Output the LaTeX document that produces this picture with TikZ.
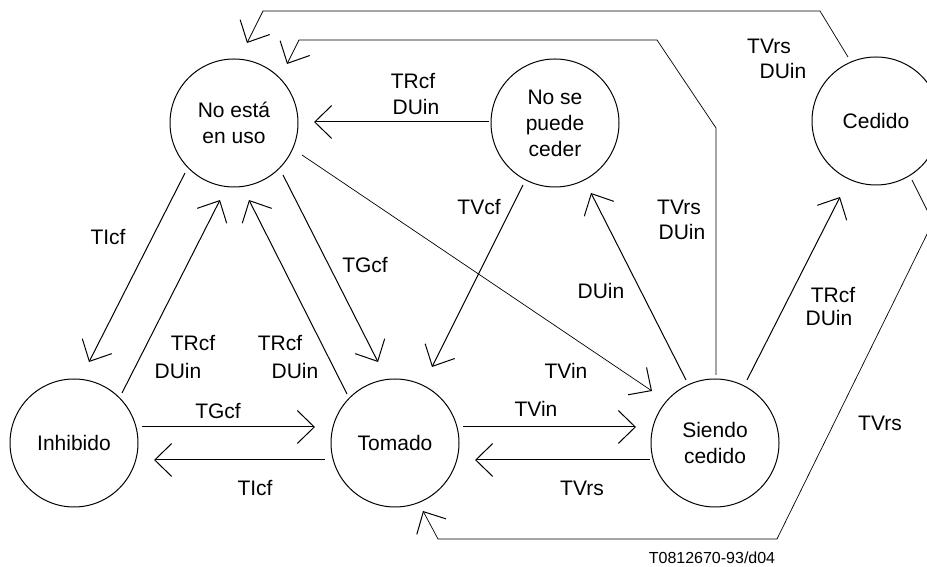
\documentclass[tikz,border=0pt]{standalone}
\usepackage{fontspec}
\setmainfont{Liberation Sans}
\usetikzlibrary{arrows.meta,calc}
\begin{document}
\begin{tikzpicture}[x=1pt,y=1pt,
  state/.style={circle,draw,line width=1pt,minimum size=128pt,inner sep=0pt,outer sep=0pt,align=center,font=\fontsize{21}{26}\selectfont},
  lbl/.style={font=\fontsize{21}{26}\selectfont,inner sep=0pt,align=center},
  arr/.style={line width=1pt,-{Straight Barb[length=17pt,width=33pt,line width=1pt]}},
  thinarr/.style={line width=0.7pt,-{Straight Barb[length=17pt,width=33pt,line width=1pt]}},
  tag/.style={font=\fontsize{16}{18}\selectfont,inner sep=0pt}]
\useasboundingbox (0,0) rectangle (927,567);
\clip (0,0) rectangle (927,567);
% states
\node[state] (nouso) at (234,444) {No está\\en uso};
\node[state] (nopuede) at (555,444) {No se\\puede\\ceder};
\node[state] (cedido) at (876,446) {Cedido};
\node[state] (inh) at (74,124) {Inhibido};
\node[state] (tom) at (395,124) {Tomado};
\node[state] (sie) at (715,124) {Siendo\\cedido};
% corner coordinates
\coordinate (c1) at (716,439);
\coordinate (c2) at (657,527);
\coordinate (c3) at (299,527);
\coordinate (d1) at (820,556);
\coordinate (d2) at (263,556);
\coordinate (e1) at (933,345);
\coordinate (e2) at (777,28);
\coordinate (e3) at (438,28);
% connectors
\draw[arr] ($(nouso)+(-49,-50)$) -- ($(inh)+(15,81)$);
\draw[arr] ($(inh)+(48,50)$) -- ($(nouso)+(-14,-77)$);
\draw[arr] ($(tom)+(-48,49)$) -- ($(nouso)+(15,-77)$);
\draw[arr] ($(nouso)+(49,-52)$) -- ($(tom)+(-17,81)$);
\draw[arr] ($(nopuede)+(-66,1)$) -- ($(nouso)+(80,1)$);
\draw[arr] ($(nopuede)+(-32,-62)$) -- ($(tom)+(37,76)$);
\draw[thinarr] ($(nouso)+(68,-32)$) -- ($(sie)+(-63,52)$);
\draw[arr] ($(sie)+(-29,63)$) -- ($(nopuede)+(36,-70)$);
\draw[thinarr] ($(sie)+(1,68)$) -- (c1) -- (c2) -- (c3) -- ($(nouso)+(53,59)$);
\draw[thinarr] ($(cedido)+(-28,64)$) -- (d1) -- (d2) -- ($(nouso)+(13,80)$);
\draw[arr] ($(sie)+(32,63)$) -- ($(cedido)+(-36,-76)$);
\draw[thinarr] ($(cedido)+(36,-59)$) -- (e1) -- (e2) -- (e3) -- ($(tom)+(28,-68)$);
\draw[arr] ($(inh)+(68,16)$) -- ($(tom)+(-80,16)$);
\draw[arr] ($(tom)+(-70,-17)$) -- ($(inh)+(80,-17)$);
\draw[arr] ($(tom)+(68,16)$) -- ($(sie)+(-79,16)$);
\draw[arr] ($(sie)+(-65,-17)$) -- ($(tom)+(80,-17)$);
% labels
\node[lbl] (l1) at (108,330) {TIcf};
\node[lbl] (l2) at (365,302) {TGcf};
\node[lbl] (l3) at (193,224) {TRcf};
\node[lbl] (l4) at (178,196) {DUin};
\node[lbl] (l5) at (280,224) {TRcf};
\node[lbl] (l6) at (295,196) {DUin};
\node[lbl] (l7) at (218,156) {TGcf};
\node[lbl] (l8) at (255,79) {TIcf};
\node[lbl] (l9) at (536,158) {TVin};
\node[lbl] (l10) at (582,79) {TVrs};
\node[lbl] (l11) at (566,196) {TVin};
\node[lbl] (l12) at (413,486) {TRcf};
\node[lbl] (l13) at (416,460) {DUin};
\node[lbl] (l14) at (479,360) {TVcf};
\node[lbl] (l15) at (601,276) {DUin};
\node[lbl] (l16) at (679,360) {TVrs};
\node[lbl] (l17) at (682,335) {DUin};
\node[lbl] (l18) at (769,521) {TVrs};
\node[lbl] (l19) at (783,496) {DUin};
\node[lbl] (l20) at (833,272) {TRcf};
\node[lbl] (l21) at (829,249) {DUin};
\node[lbl] (l22) at (880,144) {TVrs};
\node[tag] (l23) at (712,9) {T0812670-93/d04};
\end{tikzpicture}
\end{document}
